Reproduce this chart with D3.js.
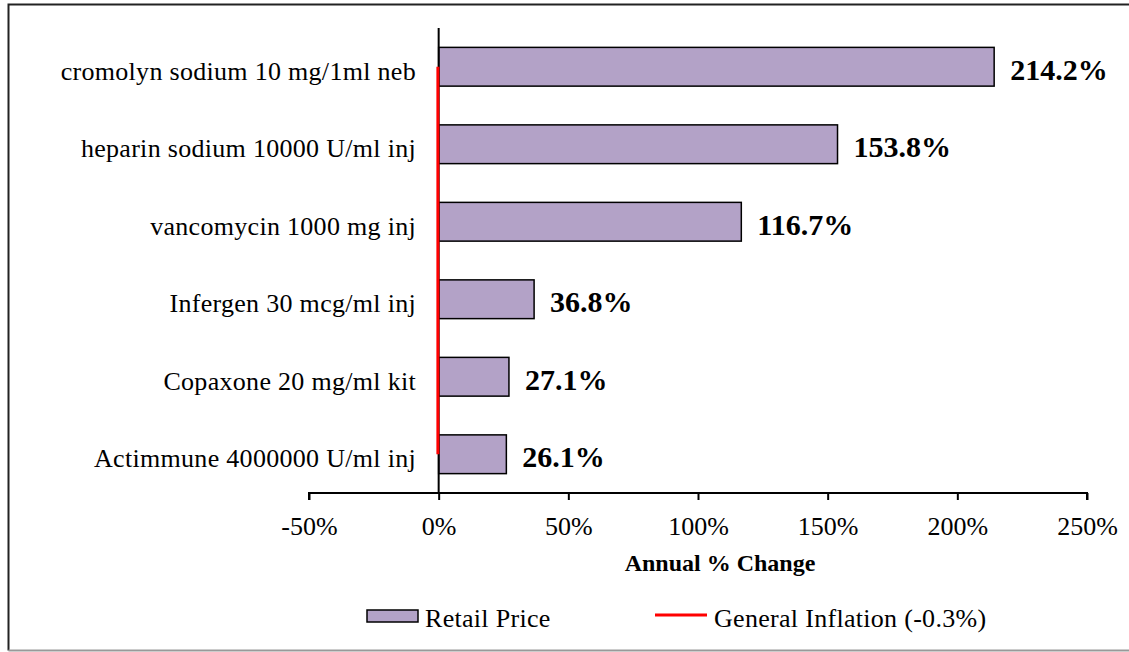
<!DOCTYPE html>
<html lang="en">
<head>
    <meta charset="UTF-8">
    <title>Annual % Change</title>
    <style>
        body { margin: 0; background: #ffffff; overflow: hidden; }
        svg text { font-family: "Liberation Serif", "Times New Roman", serif; fill: #000; }
    </style>
</head>
<body>
    <div id="container"></div>
    <script src="https://d3js.org/d3.v7.min.js"></script>
    <script>
        const categories = [
            "cromolyn sodium 10 mg/1ml neb",
            "heparin sodium 10000 U/ml inj",
            "vancomycin 1000 mg inj",
            "Infergen 30 mcg/ml inj",
            "Copaxone 20 mg/ml kit",
            "Actimmune 4000000 U/ml inj"
        ];
        const retailPrice = [214.2, 153.8, 116.7, 36.8, 27.1, 26.1];
        const inflation = -0.3;
        const xTicks = [-50, 0, 50, 100, 150, 200, 250];

        const width = 1129, height = 652;
        const plot = { left: 309, right: 1087, top: 28, bottom: 493 };

        const svg = d3.select("#container").append("svg")
            .attr("width", width)
            .attr("height", height)
            .style("display", "block");

        // chart border (runs off the right edge of the picture)
        svg.append("path")
            .attr("d", "M1140,4.5H8.5V650.5")
            .attr("fill", "none").attr("stroke", "#222").attr("stroke-width", 2);
        svg.append("line")
            .attr("x1", 8.5).attr("x2", 1140).attr("y1", 650.5).attr("y2", 650.5)
            .attr("stroke", "#999").attr("stroke-width", 2);

        const x = d3.scaleLinear().domain([-50, 250]).range([plot.left, plot.right]);
        const y = d3.scaleBand().domain(categories).range([plot.top, plot.bottom])
            .paddingInner(0.5).paddingOuter(0.25);

        // bars
        svg.selectAll("rect.bar")
            .data(retailPrice)
            .join("rect")
            .attr("class", "bar")
            .attr("x", x(0))
            .attr("y", (d, i) => y(categories[i]))
            .attr("width", d => x(d) - x(0))
            .attr("height", y.bandwidth())
            .attr("fill", "#b3a2c7")
            .attr("stroke", "#000")
            .attr("stroke-width", 1.5);

        // value labels
        svg.selectAll("text.val")
            .data(retailPrice)
            .join("text")
            .attr("class", "val")
            .attr("x", d => x(d) + 16)
            .attr("y", (d, i) => y(categories[i]) + y.bandwidth() / 2 + 13)
            .style("font-size", "30px")
            .style("font-weight", "bold")
            .text(d => d.toFixed(1) + "%");

        // x axis
        const xAxis = svg.append("g")
            .attr("transform", `translate(0,${plot.bottom})`)
            .call(d3.axisBottom(x).tickValues(xTicks).tickSize(7).tickPadding(0)
                .tickFormat(d => d + "%"));
        xAxis.select(".domain").attr("stroke", "#000").attr("stroke-width", 2)
            .attr("d", `M${plot.left},7V0H${plot.right}V7`);
        xAxis.selectAll(".tick line").attr("stroke", "#000").attr("stroke-width", 2);
        xAxis.selectAll(".tick text")
            .attr("y", 42).attr("dy", null)
            .style("font-family", "'Liberation Serif', serif")
            .style("font-size", "26px");

        // y axis line at zero
        svg.append("line")
            .attr("x1", x(0)).attr("x2", x(0))
            .attr("y1", plot.top).attr("y2", plot.bottom)
            .attr("stroke", "#000").attr("stroke-width", 2);

        // category labels
        svg.selectAll("text.cat")
            .data(categories)
            .join("text")
            .attr("class", "cat")
            .attr("x", 416)
            .attr("y", d => y(d) + y.bandwidth() / 2 + 13)
            .attr("text-anchor", "end")
            .style("font-size", "26px")
            .style("letter-spacing", "0.3px")
            .text(d => d);

        // general inflation line
        svg.append("line")
            .attr("x1", x(inflation)).attr("x2", x(inflation))
            .attr("y1", y(categories[0]) + y.bandwidth() / 2)
            .attr("y2", y(categories[categories.length - 1]) + y.bandwidth() / 2)
            .attr("stroke", "#ff0000").attr("stroke-width", 3);

        // axis title
        svg.append("text")
            .attr("x", 720).attr("y", 571)
            .attr("text-anchor", "middle")
            .style("font-size", "24px")
            .style("font-weight", "bold")
            .text("Annual % Change");

        // legend
        const legend = svg.append("g");
        legend.append("rect")
            .attr("x", 367).attr("y", 610).attr("width", 51).attr("height", 12)
            .attr("fill", "#b3a2c7").attr("stroke", "#000").attr("stroke-width", 1.5);
        legend.append("text")
            .attr("x", 425).attr("y", 627)
            .style("font-size", "26px")
            .style("letter-spacing", "0.3px")
            .text("Retail Price");
        legend.append("line")
            .attr("x1", 655).attr("x2", 707).attr("y1", 615).attr("y2", 615)
            .attr("stroke", "#ff0000").attr("stroke-width", 3);
        legend.append("text")
            .attr("x", 714).attr("y", 627)
            .style("font-size", "26px")
            .style("letter-spacing", "0.3px")
            .text("General Inflation (-0.3%)");
    </script>
</body>
</html>
